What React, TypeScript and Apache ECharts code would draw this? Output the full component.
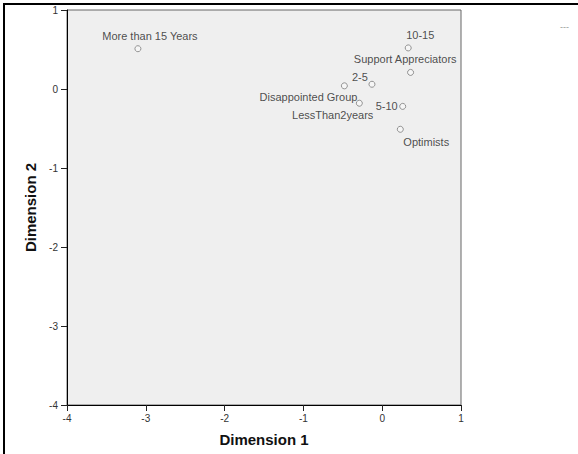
import React, { useEffect, useRef } from "react";
import * as echarts from "echarts";

const pointNames = [
  "More than 15 Years",
  "10-15",
  "Support Appreciators",
  "2-5",
  "Disappointed Group",
  "LessThan2years",
  "5-10",
  "Optimists",
];
const dim1Values = [-3.1, 0.33, 0.36, -0.13, -0.48, -0.29, 0.26, 0.23];
const dim2Values = [0.51, 0.52, 0.21, 0.06, 0.04, -0.18, -0.22, -0.51];
const axisTicks = [-4, -3, -2, -1, 0, 1];

// label placement (style only): anchor offset from the point and text alignment
const labelPlacement: Record<string, { dx: number; dy: number; align: string }> = {
  "More than 15 Years": { dx: 12, dy: -13, align: "center" },
  "10-15": { dx: 12, dy: -13, align: "center" },
  "Support Appreciators": { dx: 46, dy: -13, align: "right" },
  "2-5": { dx: -12, dy: -7, align: "center" },
  "Disappointed Group": { dx: 13, dy: 11, align: "right" },
  LessThan2years: { dx: 14, dy: 12, align: "right" },
  "5-10": { dx: -5, dy: 0, align: "right" },
  Optimists: { dx: 3, dy: 13, align: "left" },
};

const FONT = "'Liberation Sans', Arial, sans-serif";

export default function App() {
  const ref = useRef<HTMLDivElement>(null);
  useEffect(() => {
    if (!ref.current) return;
    const chart = echarts.init(ref.current, null, { renderer: "svg" });
    const data = pointNames.map((name, i) => {
      const p = labelPlacement[name];
      return {
        name,
        value: [dim1Values[i], dim2Values[i]],
        label: {
          show: true,
          formatter: name,
          position: "inside",
          offset: [p.dx, p.dy],
          align: p.align,
          verticalAlign: "middle",
        },
      };
    });
    const axisCommon = {
      type: "value",
      min: axisTicks[0],
      max: axisTicks[axisTicks.length - 1],
      interval: 1,
      splitLine: { show: false },
      axisLine: { show: true, onZero: false, lineStyle: { color: "#000", width: 1 } },
      axisTick: { show: true, inside: false, length: 6, lineStyle: { color: "#222" } },
      nameLocation: "middle",
      nameTextStyle: { fontFamily: FONT, fontWeight: "bold", fontSize: 15, color: "#111" },
    };
    chart.setOption({
      animation: false,
      backgroundColor: "#ffffff",
      textStyle: { fontFamily: FONT },
      grid: {
        left: 67,
        top: 10,
        right: 117,
        bottom: 49,
        show: true,
        backgroundColor: "#efefef",
        borderColor: "#666",
        borderWidth: 1,
      },
      xAxis: {
        ...axisCommon,
        name: "Dimension 1",
        nameGap: 27,
        axisLabel: { fontFamily: FONT, fontSize: 10, color: "#333", margin: 8 },
      },
      yAxis: {
        ...axisCommon,
        name: "Dimension 2",
        nameGap: 29,
        axisLabel: { fontFamily: FONT, fontSize: 10, color: "#333", margin: 9 },
      },
      series: [
        {
          type: "scatter",
          symbol: "circle",
          symbolSize: 6,
          itemStyle: { color: "#f7f7f7", borderColor: "#7a7a7a", borderWidth: 1 },
          label: { fontFamily: FONT, fontSize: 11, color: "#222" },
          data,
        },
      ],
      graphic: [
        {
          type: "line",
          shape: { x1: 4, y1: 4, x2: 578, y2: 4 },
          style: { stroke: "#000", lineWidth: 2 },
        },
        {
          type: "line",
          shape: { x1: 4, y1: 3, x2: 4, y2: 454 },
          style: { stroke: "#000", lineWidth: 2 },
        },
        {
          type: "text",
          x: 560,
          y: 22,
          style: { text: "---", fontSize: 9, fill: "#999", fontFamily: FONT },
        },
      ],
    });
    return () => chart.dispose();
  }, []);
  return (
    <div
      ref={ref}
      style={{ position: "fixed", left: 0, top: 0, width: 578, height: 454 }}
    />
  );
}
